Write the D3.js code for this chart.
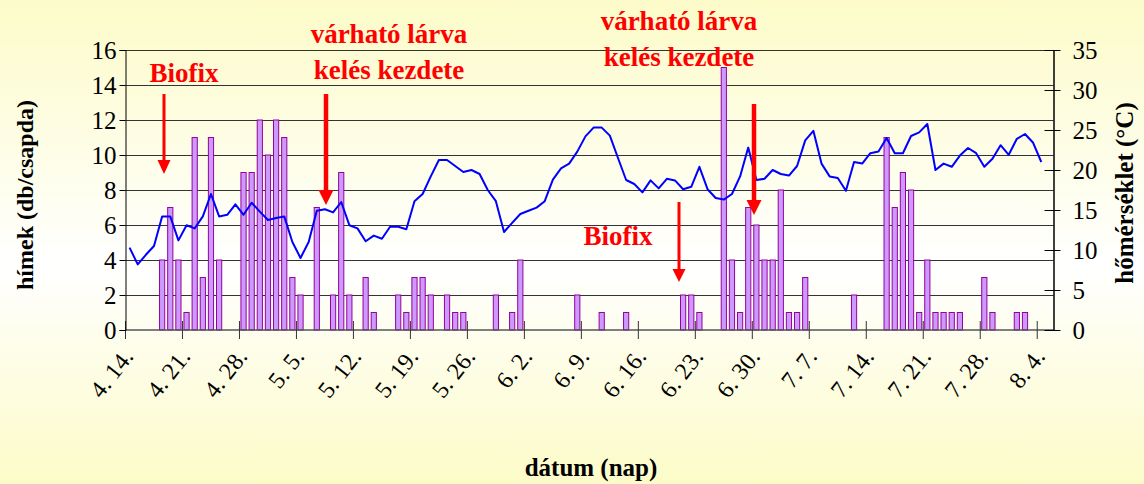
<!DOCTYPE html>
<html><head><meta charset="utf-8">
<script src="https://cdn.jsdelivr.net/npm/d3@7"></script>
<style>html,body{margin:0;padding:0;background:#fff}svg{display:block}</style>
</head><body>
<svg id="chart" width="1144" height="484"></svg>
<script>
// ---- data ----
const dayCount = 114;                    // days on the axis (4.14 .. 8.5)
const tickLabels = ["4. 14.","4. 21.","4. 28.","5. 5.","5. 12.","5. 19.","5. 26.","6. 2.","6. 9.","6. 16.","6. 23.","6. 30.","7. 7.","7. 14.","7. 21.","7. 28.","8. 4."];
const tickDays = [0,7,14,21,28,35,42,49,56,63,70,77,84,91,98,105,112];
// trap catches: [day index from 4.14, males per trap]
const catchDays = [4,5,6,7,8,9,10,11,14,15,16,17,18,19,20,21,23,25,26,27,29,30,33,34,35,36,37,39,40,41,45,47,48,55,58,61,68,69,70,73,74,75,76,77,78,79,80,81,82,83,89,93,94,95,96,97,98,99,100,101,102,105,106,109,110];
const catchValues = [4,7,4,1,11,3,11,4,9,9,12,10,12,11,3,2,7,2,9,2,3,1,2,1,3,3,2,2,1,1,2,1,4,2,1,1,2,2,1,15,4,1,7,6,4,4,8,1,1,3,2,11,7,9,8,1,4,1,1,1,1,3,1,1,1];
// daily temperature (°C), day 0 = 4.14 .. day 112 = 8.4
const temperature = [10.3,8.2,9.4,10.5,14.2,14.2,11.2,13.1,12.7,14.2,17.0,14.2,14.4,15.7,14.4,15.9,14.8,13.75,14.0,14.2,
11.0,9.0,11.0,14.9,15.1,14.7,16.0,13.1,12.7,11.1,11.8,11.4,12.9,12.9,12.6,16.1,17.0,19.2,21.25,21.25,
20.5,19.75,20.0,19.5,17.5,16.1,12.25,13.4,14.5,14.9,15.3,16.1,18.8,20.2,20.8,22.3,24.2,25.3,25.3,24.3,
21.5,18.75,18.25,17.2,18.7,17.7,18.9,18.7,17.6,17.9,20.4,17.6,16.5,16.3,17.0,19.2,22.8,18.75,18.9,20.0,
19.5,19.3,20.5,23.7,24.9,20.8,19.2,19.0,17.4,21.0,20.8,22.1,22.3,24.0,22.1,22.1,24.25,24.7,25.75,20.0,
20.8,20.4,21.8,22.75,22.1,20.4,21.4,23.1,21.9,23.9,24.5,23.4,21.0];
const leftTicks = [0,2,4,6,8,10,12,14,16];
const rightTicks = [0,5,10,15,20,25,30,35];
const annotations = [
  {lines:["Biofix"], x:184, y:82, ax:164, ay1:94, ay2:174, w:3, hw:13, hl:14},
  {lines:["várható lárva","kelés kezdete"], x:389, y:43, ax:326, ay1:94, ay2:205, w:4.5, hw:15, hl:15},
  {lines:["várható lárva","kelés kezdete"], x:679, y:30, ax:754, ay1:104, ay2:215, w:4.5, hw:15, hl:15},
  {lines:["Biofix"], x:618, y:245, ax:679, ay1:202, ay2:282, w:3, hw:13, hl:13}
];

// ---- layout ----
const W = 1144, H = 484;
const L = 125.5, R = 1053.5, T = 50, B = 330;
const svg = d3.select("#chart");
const font = "'Liberation Serif','Times New Roman',serif";

const defs = svg.append("defs");
const grad = defs.append("linearGradient").attr("id","bg").attr("x1",0).attr("x2",0).attr("y1",0).attr("y2",1);
grad.append("stop").attr("offset","0%").attr("stop-color","#fcfbc8");
grad.append("stop").attr("offset","55%").attr("stop-color","#ffffff");
grad.append("stop").attr("offset","100%").attr("stop-color","#fcfbc8");
svg.append("rect").attr("width",W).attr("height",H).attr("fill","url(#bg)");

const x = d3.scaleLinear().domain([0, dayCount]).range([L, R]);
const yL = d3.scaleLinear().domain([0, 16]).range([B, T]);
const yR = d3.scaleLinear().domain([0, 35]).range([B, T]);
const cx = i => x(i + 0.5);

// gridlines
svg.append("g").selectAll("line").data(leftTicks.filter(d=>d>0)).join("line")
  .attr("x1",L).attr("x2",R).attr("y1",d=>Math.round(yL(d))+0.5).attr("y2",d=>Math.round(yL(d))+0.5)
  .attr("stroke","#333").attr("stroke-width",1);

// bars
const bw = 5.2;
svg.append("g").selectAll("rect").data(catchDays.map((d,i)=>({d, v:catchValues[i]}))).join("rect")
  .attr("x",d=>cx(d.d)-bw/2).attr("width",bw)
  .attr("y",d=>yL(d.v)).attr("height",d=>B-yL(d.v))
  .attr("fill","#cc99ff").attr("stroke","#990099").attr("stroke-width",1);

// temperature line
svg.append("path").datum(temperature)
  .attr("d", d3.line().x((d,i)=>cx(i)).y(d=>yR(d)))
  .attr("fill","none").attr("stroke","#0000ff").attr("stroke-width",2).attr("stroke-linejoin","round");

// bottom axis line + crossing ticks
svg.append("line").attr("x1",L).attr("x2",R).attr("y1",B).attr("y2",B).attr("stroke","#555").attr("stroke-width",1.5);
svg.append("g").selectAll("line").data(tickDays).join("line")
  .attr("x1",d=>x(d)).attr("x2",d=>x(d)).attr("y1",B-9).attr("y2",B+9)
  .attr("stroke","#333").attr("stroke-width",1);

// left axis
const axL = svg.append("g").attr("transform",`translate(${L},0)`)
  .call(d3.axisLeft(yL).tickValues(leftTicks).tickSize(6).tickPadding(3).tickFormat(d3.format("d")));
axL.select(".domain").attr("stroke","#000");
axL.selectAll(".tick line").attr("stroke","#000");
axL.selectAll("text").attr("font-family",font).attr("font-size",25).attr("fill","#000");

// right axis
const axR = svg.append("g").attr("transform",`translate(${R},0)`)
  .call(d3.axisRight(yR).tickValues(rightTicks).tickSizeInner(7).tickSizeOuter(0).tickPadding(12));
axR.select(".domain").attr("stroke","#000").attr("stroke-width",1.5);
axR.selectAll(".tick line").attr("x1",-9).attr("stroke","#000");
axR.selectAll("text").attr("font-family",font).attr("font-size",25).attr("fill","#000");

// x tick labels
svg.append("g").selectAll("text").data(tickDays).join("text")
  .attr("transform",(d)=>`translate(${x(d)+9},${B+27}) rotate(-52)`)
  .attr("text-anchor","end").attr("font-family",font).attr("font-size",24).attr("fill","#000")
  .text((d,i)=>tickLabels[i]);

// axis titles
svg.append("text").attr("transform",`translate(33,${(T+B)/2+5}) rotate(-90)`)
  .attr("text-anchor","middle").attr("font-family",font).attr("font-weight","bold").attr("font-size",24)
  .text("hímek (db/csapda)");
svg.append("text").attr("transform",`translate(1133,${(T+B)/2+3}) rotate(-90)`)
  .attr("text-anchor","middle").attr("font-family",font).attr("font-weight","bold").attr("font-size",25)
  .text("hőmérséklet (°C)");
svg.append("text").attr("x",591).attr("y",476)
  .attr("text-anchor","middle").attr("font-family",font).attr("font-weight","bold").attr("font-size",25)
  .text("dátum (nap)");

// annotations
const ag = svg.append("g");
annotations.forEach(a=>{
  a.lines.forEach((t,k)=>{
    ag.append("text").attr("x",a.x).attr("y",a.y+k*36).attr("text-anchor","middle")
      .attr("font-family",font).attr("font-weight","bold").attr("font-size",27).attr("fill","#ff0000").text(t);
  });
  ag.append("rect").attr("x",a.ax-a.w/2).attr("y",a.ay1).attr("width",a.w).attr("height",a.ay2-a.hl-a.ay1+1).attr("fill","#ff0000");
  ag.append("path").attr("d",`M${a.ax-a.hw/2},${a.ay2-a.hl} L${a.ax+a.hw/2},${a.ay2-a.hl} L${a.ax},${a.ay2} Z`).attr("fill","#ff0000");
});
</script>
</body></html>
